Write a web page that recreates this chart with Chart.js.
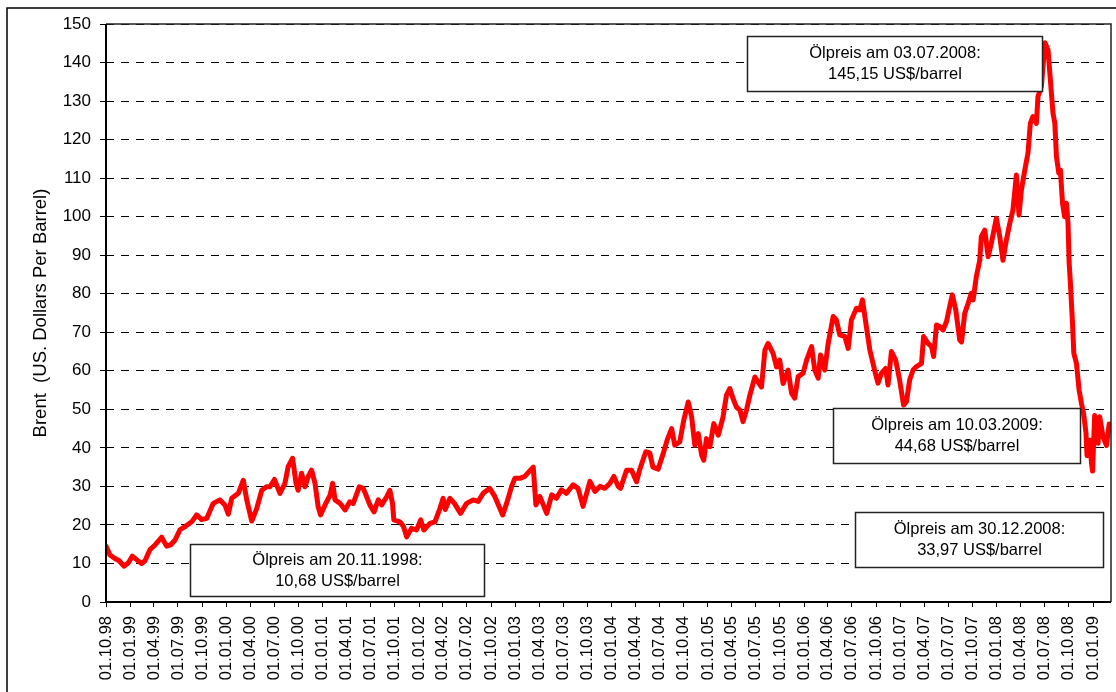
<!DOCTYPE html>
<html>
<head>
<meta charset="utf-8">
<title>Brent</title>
<script src="https://cdn.jsdelivr.net/npm/chart.js@4.4.1/dist/chart.umd.min.js"></script>
<style>
  html, body { margin: 0; padding: 0; background: #fff; }
  #wrap { width: 1116px; height: 692px; }
</style>
</head>
<body>
<div id="wrap"><canvas id="brent-chart" width="1116" height="692"></canvas></div>
<script>
// Brent price (dates as yyyy-mm-dd)
var dates = [
    '1998-10-01','1998-10-16','1998-11-04','1998-11-20','1998-12-08','1998-12-25',
    '1999-01-09','1999-01-25','1999-02-13','1999-02-26','1999-03-17','1999-04-05','1999-04-30','1999-05-19','1999-06-03','1999-06-20','1999-07-09','1999-07-31','1999-08-22','1999-09-10','1999-09-29','1999-10-18','1999-11-12','1999-12-07','1999-12-26',
    '2000-01-08','2000-01-21','2000-02-15','2000-03-05','2000-03-18','2000-04-06','2000-04-25','2000-05-14','2000-06-01','2000-06-14','2000-07-01','2000-07-22','2000-08-10','2000-08-22','2000-09-08','2000-09-21','2000-09-29','2000-10-12','2000-10-25','2000-11-06','2000-11-19','2000-12-02','2000-12-14','2000-12-23',
    '2001-01-09','2001-01-28','2001-02-07','2001-02-16','2001-03-07','2001-03-26','2001-04-13','2001-04-26','2001-05-19','2001-06-03','2001-06-16','2001-06-28','2001-07-14','2001-07-30','2001-08-12','2001-08-31','2001-09-12','2001-09-22','2001-09-27','2001-10-20','2001-11-02','2001-11-15','2001-12-03','2001-12-22',
    '2002-01-07','2002-01-19','2002-02-11','2002-03-02','2002-03-21','2002-04-02','2002-04-10','2002-04-28','2002-05-15','2002-06-07','2002-06-30','2002-07-25','2002-08-13','2002-09-01','2002-09-26','2002-10-15','2002-11-14','2002-11-29','2002-12-18','2002-12-30',
    '2003-01-18','2003-02-06','2003-02-23','2003-03-10','2003-03-20','2003-04-04','2003-04-30','2003-05-19','2003-06-06','2003-06-25','2003-07-14','2003-08-08','2003-08-27','2003-09-15','2003-10-11','2003-10-30','2003-11-18','2003-12-07','2003-12-26',
    '2004-01-10','2004-01-26','2004-02-04','2004-02-27','2004-03-17','2004-04-05','2004-04-17','2004-05-10','2004-05-25','2004-06-06','2004-06-26','2004-07-15','2004-07-30','2004-08-16','2004-08-28','2004-09-16','2004-10-01','2004-10-18','2004-10-31','2004-11-12','2004-11-25','2004-12-08','2004-12-16','2004-12-26',
    '2005-01-08','2005-01-23','2005-02-09','2005-02-27','2005-03-12','2005-03-25','2005-04-06','2005-04-19','2005-05-02','2005-05-14','2005-05-27','2005-06-09','2005-06-28','2005-07-10','2005-07-23','2005-08-05','2005-08-17','2005-09-05','2005-09-18','2005-09-30','2005-10-13','2005-11-01','2005-11-14','2005-11-26','2005-12-09','2005-12-28',
    '2006-01-10','2006-01-29','2006-02-10','2006-02-23','2006-03-04','2006-03-20','2006-04-02','2006-04-21','2006-05-03','2006-05-16','2006-06-04','2006-06-17','2006-06-29','2006-07-18','2006-07-31','2006-08-10','2006-08-23','2006-09-07','2006-09-25','2006-10-08','2006-10-21','2006-11-06','2006-11-15','2006-11-28','2006-12-14','2006-12-29',
    '2007-01-13','2007-01-24','2007-02-05','2007-02-18','2007-03-03','2007-03-22','2007-03-30','2007-04-16','2007-04-29','2007-05-07','2007-05-18','2007-05-30','2007-06-12','2007-06-25','2007-07-07','2007-07-17','2007-07-30','2007-08-14','2007-08-21','2007-09-02','2007-09-15','2007-09-27','2007-10-04','2007-10-16','2007-10-29','2007-11-04','2007-11-17','2007-11-30','2007-12-12','2007-12-31',
    '2008-01-13','2008-01-25','2008-02-07','2008-02-20','2008-03-03','2008-03-16','2008-03-26','2008-04-04','2008-04-17','2008-04-29','2008-05-08','2008-05-18','2008-05-31','2008-06-06','2008-06-19','2008-06-28','2008-07-03','2008-07-14','2008-07-21','2008-08-02','2008-08-09','2008-08-15','2008-08-24','2008-08-30','2008-09-07','2008-09-15','2008-09-22','2008-09-28','2008-10-02','2008-10-07','2008-10-15','2008-10-20','2008-10-30','2008-11-09','2008-11-18','2008-11-26','2008-12-05','2008-12-09','2008-12-20','2008-12-26','2008-12-30',
    '2009-01-07','2009-01-14','2009-01-20','2009-01-26','2009-02-08','2009-02-21','2009-03-03','2009-03-10'
];

var prices = [
    14.5, 12.2, 11.3, 10.7, 9.3, 10.2,
    11.9, 11.0, 10.0, 10.7, 13.6, 14.8, 16.8, 14.5, 14.8, 16.1, 18.8, 19.7, 20.8, 22.6, 21.4, 21.7, 25.6, 26.5, 25.2,
    22.8, 26.9, 28.2, 31.6, 26.5, 21.0, 24.3, 29.0, 29.9, 29.9, 31.8, 28.2, 30.8, 35.1, 37.3, 30.8, 29.0, 33.4, 29.9, 32.5, 34.2, 30.8, 24.7, 22.6,
    25.2, 27.7, 30.8, 26.5, 25.6, 23.9, 26.0, 25.6, 29.9, 29.5, 27.3, 25.2, 23.4, 26.5, 25.2, 27.3, 29.0, 25.6, 21.3, 20.8, 19.7, 16.9, 19.1, 18.7,
    21.3, 18.7, 20.4, 20.8, 24.3, 26.9, 24.0, 26.9, 25.6, 23.0, 25.6, 26.5, 26.1, 28.2, 29.5, 27.4, 22.6, 25.6, 30.0, 32.1,
    32.1, 32.6, 33.9, 35.0, 25.2, 27.4, 23.0, 27.8, 26.9, 29.1, 28.2, 30.4, 29.5, 24.8, 31.3, 28.7, 30.0, 29.5, 30.8,
    32.6, 30.0, 29.5, 34.2, 34.2, 31.2, 34.4, 39.0, 38.7, 35.0, 34.5, 38.5, 42.0, 45.0, 40.7, 41.6, 47.2, 51.9, 48.0, 40.7, 43.7, 38.1, 36.8, 42.4,
    40.3, 46.3, 43.3, 48.0, 53.7, 55.4, 52.8, 50.6, 49.8, 46.8, 49.8, 53.7, 58.4, 57.1, 55.8, 65.4, 67.1, 64.5, 61.0, 62.8, 56.7, 60.2, 54.2, 52.9, 58.5, 59.4,
    62.8, 66.3, 60.2, 58.1, 64.1, 60.2, 67.1, 74.1, 73.2, 69.3, 68.9, 65.8, 73.2, 76.2, 75.8, 78.4, 72.3, 65.4, 60.2, 56.8, 59.4, 60.6, 56.3, 65.0, 62.8, 57.6,
    51.1, 52.0, 57.6, 60.2, 61.1, 61.9, 68.9, 67.1, 66.3, 63.7, 71.9, 71.5, 70.6, 72.8, 76.7, 79.7, 75.8, 68.0, 67.5, 74.9, 77.5, 80.1, 78.4, 84.4, 88.7, 94.8, 96.5, 89.6, 93.1, 99.6,
    94.8, 88.7, 93.9, 98.3, 101.7, 110.8, 100.4, 106.9, 112.1, 116.5, 124.2, 126.0, 124.2, 131.2, 133.8, 141.6, 145.15, 143.3, 137.2, 126.8, 124.2, 115.6, 111.3, 112.1, 103.5, 100.0, 103.5, 98.3, 88.3, 82.7, 72.3, 64.5, 61.9, 55.0, 51.5, 48.9, 44.0, 38.0, 42.0, 36.0, 33.97,
    48.4, 45.4, 41.2, 48.1, 42.8, 40.6, 46.2, 44.68
];

var quarterLabels = [
    '01.10.98','01.01.99','01.04.99','01.07.99','01.10.99','01.01.00','01.04.00','01.07.00','01.10.00',
    '01.01.01','01.04.01','01.07.01','01.10.01','01.01.02','01.04.02','01.07.02','01.10.02',
    '01.01.03','01.04.03','01.07.03','01.10.03','01.01.04','01.04.04','01.07.04','01.10.04',
    '01.01.05','01.04.05','01.07.05','01.10.05','01.01.06','01.04.06','01.07.06','01.10.06',
    '01.01.07','01.04.07','01.07.07','01.10.07','01.01.08','01.04.08','01.07.08','01.10.08','01.01.09'
];

var noteTexts = [
    ['Ölpreis am 20.11.1998:', '10,68 US$/barrel'],
    ['Ölpreis am 03.07.2008:', '145,15 US$/barrel'],
    ['Ölpreis am 10.03.2009:', '44,68 US$/barrel'],
    ['Ölpreis am 30.12.2008:', '33,97 US$/barrel']
];

// where the note boxes sit (top-left corner in axis units, size in px)
var noteBoxes = [
    { date: '1999-08-16', value: 15.06, w: 294, h: 52 },
    { date: '2005-05-28', value: 146.97, w: 295, h: 55 },
    { date: '2006-04-19', value: 50.45, w: 247, h: 55 },
    { date: '2006-07-14', value: 23.37, w: 248, h: 55 }
];

var FONT = '"Liberation Sans", Arial, sans-serif';
var DAY = 86400000;
var START = Date.UTC(1998, 9, 1);

function dayOf(iso) {
    var p = iso.split('-');
    return (Date.UTC(+p[0], +p[1] - 1, +p[2]) - START) / DAY;
}
function labelDay(l) {
    var p = l.split('.');
    var yy = +p[2];
    var year = yy > 50 ? 1900 + yy : 2000 + yy;
    return (Date.UTC(year, +p[1] - 1, +p[0]) - START) / DAY;
}

var points = dates.map(function (d, i) { return { x: dayOf(d), y: prices[i] }; });

var framePlugin = {
    id: 'frame',
    beforeDraw: function (chart) {
        var ctx = chart.ctx;
        ctx.save();
        ctx.fillStyle = '#fff';
        ctx.fillRect(0, 0, chart.width, chart.height);
        ctx.strokeStyle = '#000';
        ctx.lineWidth = 1.5;
        ctx.beginPath();
        ctx.moveTo(7, chart.height);
        ctx.lineTo(7, 8);
        ctx.lineTo(chart.width, 8);
        ctx.stroke();
        ctx.restore();
    },
    afterDraw: function (chart) {
        var ctx = chart.ctx;
        var a = chart.chartArea;
        ctx.save();
        // plot frame
        ctx.strokeStyle = '#222';
        ctx.lineWidth = 1.5;
        ctx.beginPath();
        ctx.moveTo(a.left, a.top);
        ctx.lineTo(a.right, a.top);
        ctx.lineTo(a.right, a.bottom);
        ctx.stroke();
        // axes
        ctx.strokeStyle = '#000';
        ctx.lineWidth = 2;
        ctx.beginPath();
        ctx.moveTo(a.left, a.top);
        ctx.lineTo(a.left, a.bottom);
        ctx.lineTo(a.right, a.bottom);
        ctx.stroke();

        // note boxes
        var xs = chart.scales.x, ys = chart.scales.y;
        noteBoxes.forEach(function (b, i) {
            var left = Math.round(xs.getPixelForValue(dayOf(b.date))) + 0.5;
            var top = Math.round(ys.getPixelForValue(b.value)) + 0.5;
            ctx.fillStyle = '#fff';
            ctx.fillRect(left, top, b.w, b.h);
            ctx.strokeStyle = '#222';
            ctx.lineWidth = 1.5;
            ctx.strokeRect(left, top, b.w, b.h);
            ctx.fillStyle = '#000';
            ctx.font = '16.5px ' + FONT;
            ctx.textAlign = 'center';
            ctx.textBaseline = 'middle';
            var cx = left + b.w / 2, cy = top + b.h / 2;
            noteTexts[i].forEach(function (t, j) {
                ctx.fillText(t, cx, cy + (j - 0.5) * 21);
            });
        });
        ctx.restore();
    }
};

new Chart(document.getElementById('brent-chart'), {
    type: 'line',
    data: {
        datasets: [{
            label: 'Brent',
            data: points,
            borderColor: '#ff0000',
            borderWidth: 5,
            pointRadius: 0,
            tension: 0,
            fill: false,
            borderJoinStyle: 'round',
            borderCapStyle: 'round'
        }]
    },
    options: {
        responsive: false,
        animation: false,
        devicePixelRatio: 1,
        layout: { padding: { left: 0, right: 5, top: 24, bottom: 0 } },
        plugins: {
            legend: { display: false },
            tooltip: { enabled: false }
        },
        scales: {
            x: {
                type: 'linear',
                min: 0,
                max: dayOf('2009-03-10'),
                afterBuildTicks: function (s) {
                    s.ticks = quarterLabels.map(function (l) { return { value: labelDay(l) }; });
                },
                afterFit: function (s) {
                    s.height = 90;
                    s.paddingLeft = 0;
                    s.paddingRight = 0;
                },
                grid: { drawOnChartArea: false, drawTicks: true, tickLength: 5, color: '#000', lineWidth: 1 },
                border: { display: false },
                ticks: {
                    autoSkip: false,
                    maxRotation: 90,
                    minRotation: 90,
                    padding: 9,
                    color: '#000',
                    font: { family: FONT, size: 16.5 },
                    callback: function (v, i) { return quarterLabels[i]; }
                }
            },
            y: {
                min: 0,
                max: 150,
                afterFit: function (s) { s.width = 106; },
                ticks: { stepSize: 10, padding: 9, color: '#000', font: { family: FONT, size: 17 } },
                grid: { color: '#000', lineWidth: 1, tickLength: 6, tickBorderDash: [], drawTicks: true },
                border: { display: false, dash: [8, 7] },
                title: {
                    display: true,
                    text: 'Brent  (US. Dollars Per Barrel)',
                    color: '#000',
                    font: { family: FONT, size: 18.5, weight: 'normal' },
                    padding: { top: 30, bottom: 0 }
                }
            }
        }
    },
    plugins: [framePlugin]
});
</script>
</body>
</html>
